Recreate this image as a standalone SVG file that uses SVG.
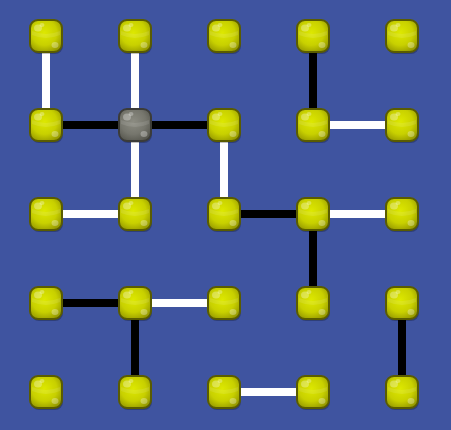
<svg xmlns="http://www.w3.org/2000/svg" width="451" height="430" viewBox="0 0 451 430">
<style>
.w{stroke:#ffffff;stroke-width:8}
.b{stroke:#000000;stroke-width:8}
.n{fill:url(#gy);stroke:#5a5c00;stroke-width:2}
.g{fill:url(#gg);stroke:#3c3c38;stroke-width:2}
.sh{fill:#000;opacity:0.25;stroke:none}
.hl{fill:#fff;opacity:0.3;stroke:none}
.hl2{fill:#fff;opacity:0.1;stroke:none}
</style>
<defs>
<radialGradient id="gy" cx="0.45" cy="0.4" r="0.65">
<stop offset="0" stop-color="#dde800"/>
<stop offset="0.6" stop-color="#c8d000"/>
<stop offset="1" stop-color="#969a00"/>
</radialGradient>
<radialGradient id="gg" cx="0.45" cy="0.4" r="0.65">
<stop offset="0" stop-color="#8c8c82"/>
<stop offset="0.6" stop-color="#76766d"/>
<stop offset="1" stop-color="#57574f"/>
</radialGradient>
<g id="node">
<rect x="-15" y="-14" width="32" height="32" rx="8" class="sh"/>
<rect x="-16" y="-16" width="32" height="32" rx="8"/>
<path d="M-14,-1 Q0,5 14,-1 L14,-5 Q0,1 -14,-5 Z" class="hl2"/>
<ellipse cx="-8" cy="-8" rx="4" ry="3.5" class="hl"/>
<ellipse cx="-4" cy="-11" rx="2.5" ry="2" class="hl"/>
<ellipse cx="9" cy="9" rx="3.5" ry="3" class="hl"/>
</g>
</defs>
<rect width="451" height="430" fill="#3f54a0"/>
<g id="connectors">
<line x1="46" y1="36" x2="46" y2="125" class="w"/>
<line x1="135" y1="36" x2="135" y2="125" class="w"/>
<line x1="135" y1="125" x2="135" y2="214" class="w"/>
<line x1="224" y1="125" x2="224" y2="214" class="w"/>
<line x1="46" y1="214" x2="135" y2="214" class="w"/>
<line x1="313" y1="125" x2="402" y2="125" class="w"/>
<line x1="313" y1="214" x2="402" y2="214" class="w"/>
<line x1="135" y1="303" x2="224" y2="303" class="w"/>
<line x1="224" y1="392" x2="313" y2="392" class="w"/>
<line x1="46" y1="125" x2="135" y2="125" class="b"/>
<line x1="135" y1="125" x2="224" y2="125" class="b"/>
<line x1="313" y1="36" x2="313" y2="125" class="b"/>
<line x1="224" y1="214" x2="313" y2="214" class="b"/>
<line x1="313" y1="214" x2="313" y2="303" class="b"/>
<line x1="46" y1="303" x2="135" y2="303" class="b"/>
<line x1="135" y1="303" x2="135" y2="392" class="b"/>
<line x1="402" y1="303" x2="402" y2="392" class="b"/>
</g>
<g id="n00" class="n"><use href="#node" x="46" y="36"/></g>
<g id="n10" class="n"><use href="#node" x="135" y="36"/></g>
<g id="n20" class="n"><use href="#node" x="224" y="36"/></g>
<g id="n30" class="n"><use href="#node" x="313" y="36"/></g>
<g id="n40" class="n"><use href="#node" x="402" y="36"/></g>
<g id="n01" class="n"><use href="#node" x="46" y="125"/></g>
<g id="n11" class="g"><use href="#node" x="135" y="125"/></g>
<g id="n21" class="n"><use href="#node" x="224" y="125"/></g>
<g id="n31" class="n"><use href="#node" x="313" y="125"/></g>
<g id="n41" class="n"><use href="#node" x="402" y="125"/></g>
<g id="n02" class="n"><use href="#node" x="46" y="214"/></g>
<g id="n12" class="n"><use href="#node" x="135" y="214"/></g>
<g id="n22" class="n"><use href="#node" x="224" y="214"/></g>
<g id="n32" class="n"><use href="#node" x="313" y="214"/></g>
<g id="n42" class="n"><use href="#node" x="402" y="214"/></g>
<g id="n03" class="n"><use href="#node" x="46" y="303"/></g>
<g id="n13" class="n"><use href="#node" x="135" y="303"/></g>
<g id="n23" class="n"><use href="#node" x="224" y="303"/></g>
<g id="n33" class="n"><use href="#node" x="313" y="303"/></g>
<g id="n43" class="n"><use href="#node" x="402" y="303"/></g>
<g id="n04" class="n"><use href="#node" x="46" y="392"/></g>
<g id="n14" class="n"><use href="#node" x="135" y="392"/></g>
<g id="n24" class="n"><use href="#node" x="224" y="392"/></g>
<g id="n34" class="n"><use href="#node" x="313" y="392"/></g>
<g id="n44" class="n"><use href="#node" x="402" y="392"/></g>
</svg>
